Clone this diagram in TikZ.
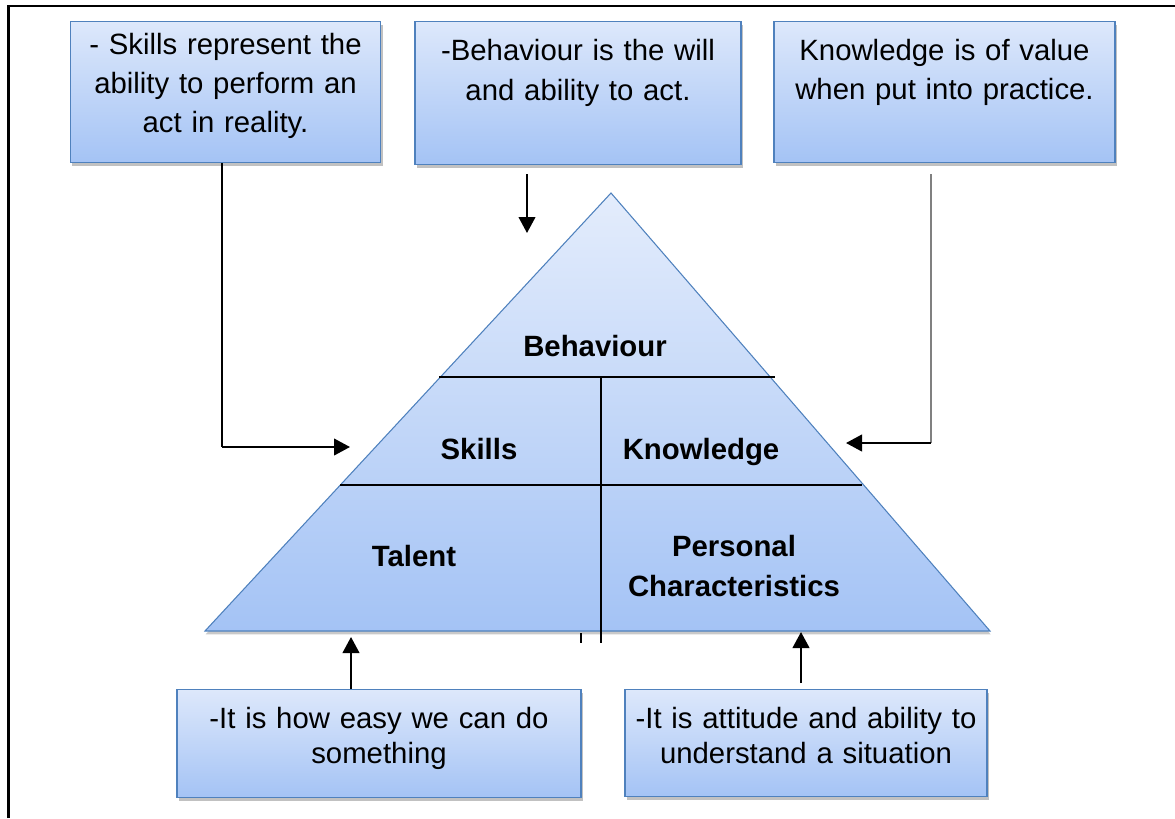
\documentclass[tikz,border=0pt]{standalone}
\usepackage{fontspec}
\setmainfont{Liberation Sans}
\usetikzlibrary{arrows.meta, shadows, calc}

\definecolor{boxtop}{HTML}{DDE8FB}
\definecolor{boxbottom}{HTML}{A4C3F5}
\definecolor{boxedge}{HTML}{4F81BD}

\newcommand{\notefont}{\fontsize{22pt}{29pt}\selectfont}
\newcommand{\lownotefont}{\fontsize{22pt}{26pt}\selectfont}

\begin{document}
\begin{tikzpicture}[x=0.75pt, y=-0.75pt,
  notebox/.style={rectangle, draw=boxedge, line width=0.9pt, top color=boxtop, bottom color=boxbottom, anchor=north, align=center, inner xsep=6pt, inner ysep=4pt, text height=25.5pt, drop shadow={shadow xshift=1.5pt, shadow yshift=-2.2pt, opacity=0.35, fill=black!70}},
  tierlabel/.style={font=\fontsize{22pt}{30pt}\selectfont\bfseries, align=center},
  connector/.style={-{Triangle[length=12pt,width=12.5pt]}, line width=1.5pt},
  divider/.style={line width=1.1pt}]
\useasboundingbox (0,0) rectangle (1175,818);

% frame
\draw[line width=2pt] (8.5,818) -- (8.5,6) -- (1175,6);

% pyramid
\draw[draw=boxedge, line width=0.8pt, top color=boxtop!80!white, bottom color=boxbottom, drop shadow={shadow xshift=0.5pt, shadow yshift=-2.5pt, opacity=0.3, fill=black!70}] (611,193) -- (990,631) -- (205,631) -- cycle;
\draw[divider] (439,377) -- (775,377);
\draw[divider] (340,485) -- (862,485);
\draw[divider] (601,377) -- (601,643);
\draw[divider] (581,633) -- (581,643);

\node[tierlabel, anchor=base] (behaviour) at (595,356) {Behaviour};
\node[tierlabel, anchor=base] (skills) at (479,459) {Skills};
\node[tierlabel, anchor=base] (knowledge) at (701,459) {Knowledge};
\node[tierlabel, anchor=base] (talent) at (414,566) {Talent};
\node[tierlabel] (personal) at (734,566) {Personal\\ Characteristics};

% notes
\node[notebox, font=\notefont, text width=221pt, text height=21pt, text depth=76.75pt] (skillsnote) at (225.5,21) {- Skills represent the\\ ability to perform an\\ act in reality.};
\node[notebox, font=\fontsize{22pt}{30pt}\selectfont, text width=232.5pt, text depth=73.75pt] (behaviournote) at (578,21) {-Behaviour is the will\\ and ability to act.};
\node[notebox, font=\notefont, text width=243.75pt, text depth=72.25pt] (knowledgenote) at (944.5,21) {Knowledge is of value\\ when put into practice.};
\node[notebox, font=\lownotefont, text width=291pt, text depth=47.5pt] (talentnote) at (379,689) {-It is how easy we can do\\ something};
\node[notebox, font=\lownotefont, text width=259.5pt, text depth=46.75pt] (personalnote) at (806,689) {-It is attitude and ability to\\ understand a situation};

% connectors
\coordinate (skillsbend) at (222,447);
\coordinate (skillsin) at (350,447);
\coordinate (behaviourin) at (527,233);
\coordinate (knowledgebend) at (931,443);
\coordinate (knowledgein) at (846,443);
\coordinate (talentin) at (351,637);
\coordinate (personalin) at (801,632);

\draw[line width=1.5pt] (skillsnote.south -| skillsbend) -- (skillsbend);
\draw[connector] (skillsbend) -- (skillsin);
\draw[connector] ($(behaviournote.south -| behaviourin)+(0,9)$) -- (behaviourin);
\draw[black!50, line width=1pt] ($(knowledgenote.south -| knowledgebend)+(0,11)$) -- (knowledgebend);
\draw[connector] (knowledgebend) -- (knowledgein);
\draw[connector] (talentnote.north -| talentin) -- (talentin);
\draw[connector] ($(personalnote.north -| personalin)+(0,-6)$) -- (personalin);
\end{tikzpicture}
\end{document}
